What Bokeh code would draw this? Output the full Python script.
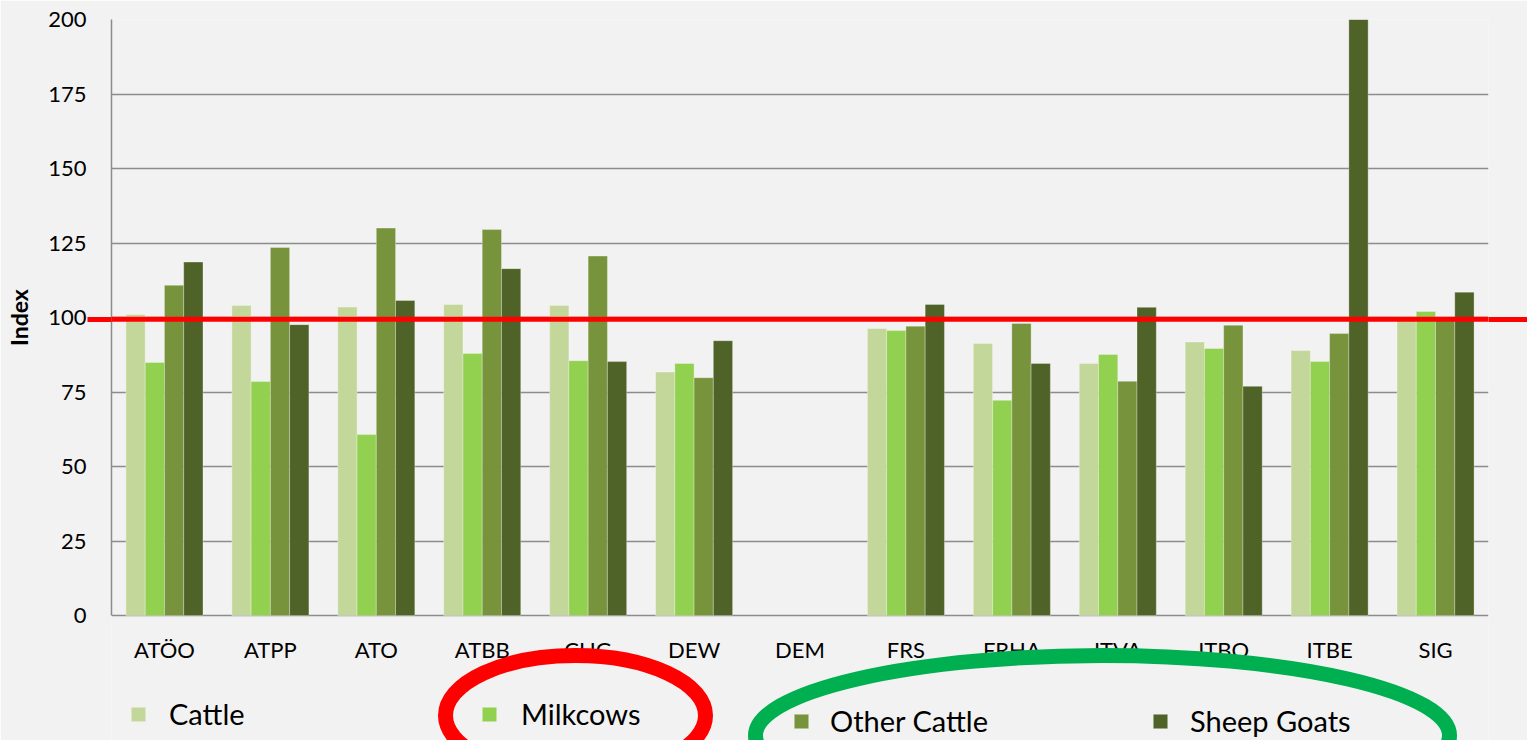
import numpy as np
from bokeh.plotting import figure
from bokeh.models import (ColumnDataSource, FactorRange, Range1d, FixedTicker,
                          Span, Legend, LegendItem, LinearAxis)
from bokeh.core.properties import value
from bokeh.transform import dodge
from bokeh.embed import file_html
from bokeh.resources import INLINE

# ---------------- data ----------------
regions = ["ATÖO", "ATPP", "ATO", "ATBB", "CHG", "DEW", "DEM",
           "FRS", "FRHA", "ITVA", "ITBO", "ITBE", "SIG"]
cattle = [101.0, 104.0, 103.5, 104.4, 104.0, 81.7, float("nan"),
          96.3, 91.3, 84.6, 91.8, 88.9, 100.3]
milkcows = [84.9, 78.5, 60.7, 87.9, 85.5, 84.6, float("nan"),
            95.6, 72.2, 87.6, 89.6, 85.2, 102.0]
other_cattle = [110.8, 123.5, 130.0, 129.5, 120.6, 79.8, float("nan"),
                97.1, 98.0, 78.6, 97.4, 94.6, 100.2]
sheep_goats = [118.6, 97.6, 105.7, 116.4, 85.2, 92.2, float("nan"),
               104.4, 84.6, 103.4, 76.9, 200.0, 108.5]
series_names = ["Cattle", "Milkcows", "Other Cattle", "Sheep Goats"]
series_keys = ["cattle", "milkcows", "other_cattle", "sheep_goats"]
series_colors = ["#c4d79b", "#92d050", "#77933c", "#4f6228"]
y_ticks = [0, 25, 50, 75, 100, 125, 150, 175, 200]
reference_level = 99.4
y_label = "Index"

# ---------------- layout (canvas px) ----------------
W, H = 1527, 740
FL, FR, FT, FB = 111, 1488, 19, 740      # frame edges
AXIS0 = 615                               # pixel row of y = 0
BG = "#f2f2f2"
GRID = "#8c8c8c"
FONT = "Lato"
PPU = (AXIS0 - FT) / 200.0                # px per y unit
CAT_W = (FR - FL) / len(regions)          # px per category


def px_y(py):
    return (AXIS0 - py) / PPU


def px_x(px):
    return (px - FL) / CAT_W


source = ColumnDataSource(dict(region=regions, cattle=cattle, milkcows=milkcows,
                               other_cattle=other_cattle, sheep_goats=sheep_goats,
                               label_y=[px_y(648.5)] * len(regions)))

p = figure(x_range=FactorRange(*regions), y_range=Range1d(px_y(FB), 200),
           width=W, height=H, output_backend="svg", toolbar_location=None,
           min_border_left=FL, min_border_right=W - FR,
           min_border_top=FT, min_border_bottom=0)
p.background_fill_color = BG
p.border_fill_color = BG
p.outline_line_color = None

p.xgrid.grid_line_color = None
p.xaxis.visible = False
p.ygrid.ticker = FixedTicker(ticks=y_ticks)
p.ygrid.grid_line_color = GRID
p.ygrid.grid_line_width = 1.5

# main y axis (tick labels only)
ya = p.yaxis[0]
ya.ticker = FixedTicker(ticks=y_ticks)
ya.bounds = (0, 200)
ya.axis_line_color = None
ya.major_tick_line_color = None
ya.minor_tick_line_color = None
ya.major_label_text_font = FONT
ya.major_label_text_font_size = "22px"
ya.major_label_text_color = "#000000"
ya.major_label_standoff = -5

# axis title, centred on the 0..200 span (at y = 100)
title_axis = LinearAxis(ticker=FixedTicker(ticks=[100]), major_label_overrides={100: y_label},
                        axis_line_color=None, major_tick_line_color=None,
                        minor_tick_line_color=None, major_label_standoff=7,
                        major_label_orientation="vertical",
                        major_label_text_font=FONT, major_label_text_font_size="23px",
                        major_label_text_font_style="bold",
                        major_label_text_color="#000000")


def ref_axis(tick_len, line_color):
    return LinearAxis(ticker=FixedTicker(ticks=[reference_level]), bounds=(0, 200),
                      axis_line_color=line_color, axis_line_width=1.5,
                      major_tick_in=0, major_tick_out=tick_len,
                      major_tick_line_color="#ff0000", major_tick_line_width=5,
                      minor_tick_line_color=None, major_label_standoff=0,
                      major_label_text_font_size="0px",
                      major_label_overrides={reference_level: ""})


# inner left axis: gray axis line + red reference extension to the left
left_ref = ref_axis(24, GRID)
p.left = [left_ref, ya, title_axis]
# right: red reference extension to the right edge
p.add_layout(ref_axis(W - FR, None), "right")

# bars
offsets = [-0.2727, -0.0909, 0.0909, 0.2727]
renderers = []
for key, col, off in zip(series_keys, series_colors, offsets):
    r = p.vbar(x=dodge("region", off, range=p.x_range), top=key, width=0.182,
               source=source, fill_color=col, line_color="#ffffff",
               line_alpha=0.3, line_width=1)
    renderers.append(r)

# category labels
p.text(x="region", y="label_y", text="region", source=source,
       text_font=value(FONT), text_font_size="22px", text_color="#000000",
       text_align="center", text_baseline="alphabetic")

# reference line at ~100
p.add_layout(Span(location=reference_level, dimension="width",
                  line_color="#ff0000", line_width=5))

# legends, one per item
leg_x = [131, 482, 794, 1153]
leg_y = [9, 9, 2, 2]
leg_standoff = [22, 23, 20, 21]
for name, r, lx, ly, ls in zip(series_names, renderers, leg_x, leg_y, leg_standoff):
    leg = Legend(items=[LegendItem(label=name, renderers=[r])], location=(lx - FL - 2, ly),
                 orientation="horizontal", glyph_width=18, glyph_height=18,
                 label_standoff=ls, label_text_font=FONT, label_text_font_size="29px",
                 label_text_color="#000000", padding=0, margin=0, spacing=0,
                 border_line_color=None, background_fill_alpha=0)
    p.add_layout(leg, "center")

# highlight ellipses (centre in px, full size in px)
for cx, cy, ew, eh, col in [(575, 715, 260, 120, "#ff0000"),
                            (1102, 735, 694, 160, "#00b050")]:
    p.ellipse(x=[px_x(cx)], y=[px_y(cy)], width=ew, height=eh,
              width_units="screen", height_units="screen",
              fill_alpha=0, line_color=col, line_width=15)

open("out.html", "w").write(file_html(p, INLINE, title="Index chart"))
